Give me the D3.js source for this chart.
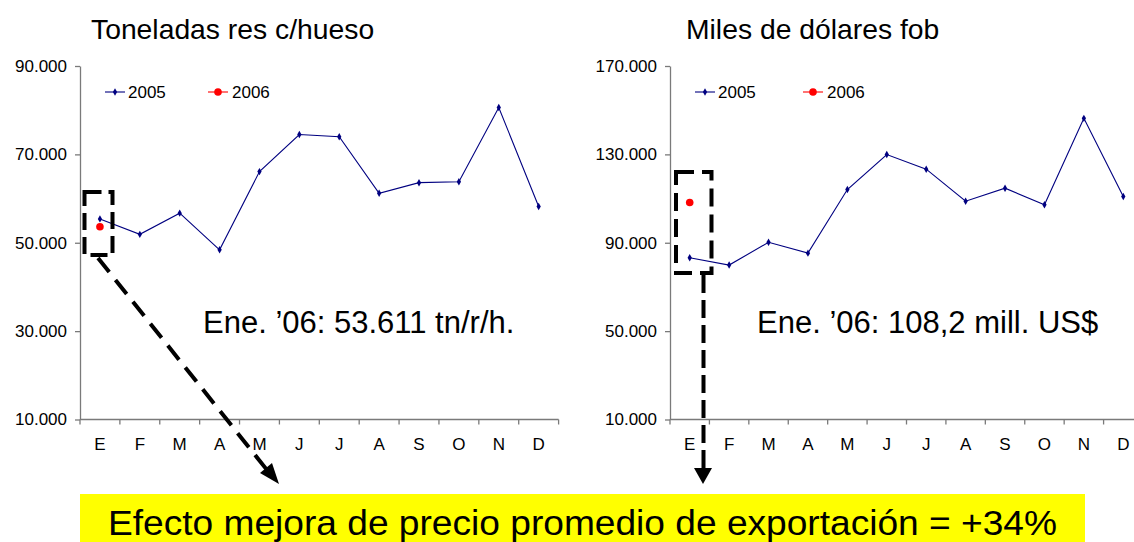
<!DOCTYPE html>
<html><head><meta charset="utf-8">
<script src="https://cdn.jsdelivr.net/npm/d3@7"></script>
<style>
html,body{margin:0;padding:0;background:#fff;}
svg{display:block;font-family:Arial,"Liberation Sans",sans-serif;}
</style></head>
<body><svg id="c" width="1134" height="542"></svg>
<script>
const months = ["E","F","M","A","M","J","J","A","S","O","N","D"];
const monthKeys = months.map((m,i)=>i);
const tons2005 = [55400,51900,56700,48400,66100,74500,74000,61200,63600,63800,80600,58200];
const tons2006 = [53611];
const usd2005 = [83200,79900,90200,85300,114100,129900,123300,108800,114700,107200,146300,110900];
const usd2006 = [108200];
const tonsTicks = [10000,30000,50000,70000,90000];
const usdTicks = [10000,50000,90000,130000,170000];
const seriesNames = ["2005","2006"];
const titles = ["Toneladas res c/hueso","Miles de dólares fob"];
const notes = ["Ene. \u201906: 53.611 tn/r/h.","Ene. \u201906: 108,2 mill. US$"];
const banner = "Efecto mejora de precio promedio de exportación = +34%";

const loc = d3.formatLocale({decimal:",",thousands:".",grouping:[3],currency:["$",""]});
const fmt = loc.format(",d");
const svg = d3.select("#c");
const NAVY = "#000080", RED = "#ff0000", AX = "#7a7a7a";

function chart(cfg){
  const g = svg.append("g");
  const x = d3.scaleBand().domain(monthKeys).range([cfg.x0, cfg.x1]).padding(0);
  const y = d3.scaleLinear().domain([cfg.ticks[0], cfg.ticks[cfg.ticks.length-1]]).range([419.5, 66]);
  g.append("text").attr("x", cfg.titleX).attr("y", 39).attr("font-size", 28.3).text(cfg.title);
  const ya = g.append("g").attr("transform", `translate(${cfg.x0},0)`)
    .call(d3.axisLeft(y).tickValues(cfg.ticks).tickFormat(fmt).tickSize(5).tickPadding(8).tickSizeOuter(0));
  ya.select(".domain").attr("stroke", AX).attr("stroke-width",1.3);
  ya.selectAll(".tick line").attr("stroke", AX).attr("stroke-width",1.3);
  ya.selectAll(".tick text").attr("font-size", 17).attr("fill","#000").attr("font-family","Arial,'Liberation Sans',sans-serif");
  const xa = g.append("g");
  xa.append("line").attr("x1", cfg.x0).attr("x2", cfg.x1).attr("y1", y(cfg.ticks[0])).attr("y2", y(cfg.ticks[0]))
    .attr("stroke", AX).attr("stroke-width",1.3);
  const bounds = monthKeys.map(k=>x(k)).concat([x(11)+x.bandwidth()]);
  xa.selectAll("line.t").data(bounds).join("line").attr("class","t")
    .attr("x1",d=>d).attr("x2",d=>d).attr("y1", y(cfg.ticks[0])).attr("y2", y(cfg.ticks[0])+5)
    .attr("stroke", AX).attr("stroke-width",1.3);
  xa.selectAll("text").data(monthKeys).join("text")
    .attr("x", k=>x(k)+x.bandwidth()/2).attr("y", 450).attr("text-anchor","middle")
    .attr("font-size", 17).text(k=>months[k]);
  const cx = k=>x(k)+x.bandwidth()/2;
  const line = d3.line().x((d,i)=>cx(i)).y(d=>y(d));
  g.append("path").attr("d", line(cfg.s2005)).attr("fill","none").attr("stroke", NAVY).attr("stroke-width",1.1);
  g.selectAll("path.m").data(cfg.s2005).join("path").attr("class","m")
    .attr("d", d3.symbol(d3.symbolDiamond, 16)).attr("transform",(d,i)=>`translate(${cx(i)},${y(d)})`).attr("fill",NAVY);
  g.selectAll("circle.r").data(cfg.s2006).join("circle").attr("class","r")
    .attr("cx",(d,i)=>cx(i)).attr("cy",d=>y(d)).attr("r",3.8).attr("fill",RED);
  const lg = g.append("g").attr("transform", `translate(${cfg.x0},92)`);
  lg.append("line").attr("x1",25).attr("x2",45).attr("stroke",NAVY).attr("stroke-width",1.1);
  lg.append("path").attr("d", d3.symbol(d3.symbolDiamond,16)).attr("transform","translate(35,0)").attr("fill",NAVY);
  lg.append("text").attr("x",48).attr("y",6).attr("font-size",17).text(seriesNames[0]);
  lg.append("line").attr("x1",cfg.legR).attr("x2",cfg.legR+20).attr("stroke",RED).attr("stroke-width",1.1);
  lg.append("circle").attr("cx",cfg.legR+10).attr("r",3.8).attr("fill",RED);
  lg.append("text").attr("x",cfg.legR+24).attr("y",6).attr("font-size",17).text(seriesNames[1]);
  g.append("text").attr("x", cfg.noteX).attr("y", 333).attr("font-size", 31).text(cfg.note);
  return {x,y};
}

chart({x0:80, x1:558.6, ticks:tonsTicks, s2005:tons2005, s2006:tons2006, title:titles[0], titleX:91, note:notes[0], noteX:203, legR:128});
chart({x0:670, x1:1143, ticks:usdTicks, s2005:usd2005, s2006:usd2006, title:titles[1], titleX:686, note:notes[1], noteX:757, legR:133});

const ann = svg.append("g").attr("fill","none").attr("stroke","#000").attr("stroke-width",4);
ann.append("rect").attr("x",84.5).attr("y",192).attr("width",28).attr("height",63).attr("stroke-dasharray","17,7");
ann.append("rect").attr("x",676).attr("y",172).attr("width",35.5).attr("height",101).attr("stroke-dasharray","18,8");
ann.append("line").attr("x1",98).attr("y1",258).attr("x2",267).attr("y2",470).attr("stroke-dasharray","18,10");
svg.append("path").attr("d","M279,484 L260,473 L272,463 Z").attr("fill","#000");
ann.append("line").attr("x1",703.5).attr("y1",275).attr("x2",703.5).attr("y2",468).attr("stroke-dasharray","18,7");
svg.append("path").attr("d","M694,468 L712,468 L703,484 Z").attr("fill","#000");

svg.append("rect").attr("x",80).attr("y",494).attr("width",1005).attr("height",48).attr("fill","#ffff00");
svg.append("text").attr("x",108).attr("y",535).attr("font-size",34.5).attr("textLength",949).attr("lengthAdjust","spacingAndGlyphs").text(banner);
</script></body></html>
